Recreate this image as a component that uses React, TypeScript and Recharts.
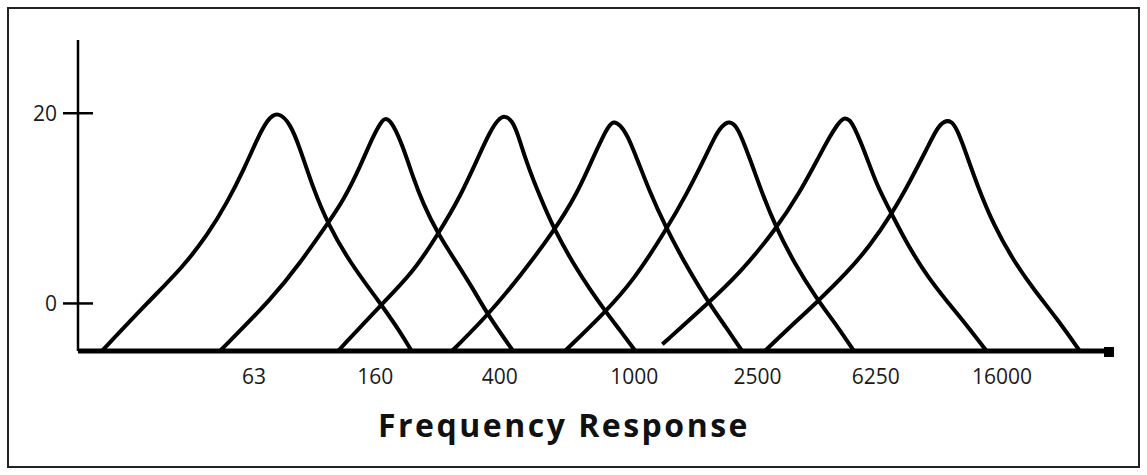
import React from 'react';
import { LineChart, Line, XAxis, YAxis, ReferenceDot } from 'recharts';

// x: position along the frequency axis (0..100), y: response level
const band63 = [
  { x: 2.3, y: -5 }, { x: 6.9, y: 0.3 }, { x: 10.1, y: 3.8 }, { x: 12.5, y: 7.2 },
  { x: 14.4, y: 10.6 }, { x: 16.1, y: 14.3 }, { x: 17.3, y: 17.3 }, { x: 18.3, y: 19.4 },
  { x: 19.3, y: 20.2 }, { x: 20.5, y: 18.9 }, { x: 21.4, y: 16.4 }, { x: 22.7, y: 12.1 },
  { x: 24.1, y: 8.4 }, { x: 26.3, y: 4.2 }, { x: 29.2, y: 0 }, { x: 31.1, y: -3.0 },
  { x: 32.2, y: -5 },
];
const band160 = [
  { x: 13.7, y: -5 }, { x: 18.8, y: 0.6 }, { x: 21.4, y: 4.2 }, { x: 24.1, y: 8.4 },
  { x: 25.6, y: 10.8 }, { x: 27.2, y: 14.3 }, { x: 28.4, y: 17.4 }, { x: 29.2, y: 19.0 },
  { x: 29.7, y: 19.6 }, { x: 30.4, y: 18.9 }, { x: 31.4, y: 16.4 }, { x: 32.3, y: 13.4 },
  { x: 33.3, y: 10.5 }, { x: 34.7, y: 7.4 }, { x: 36.6, y: 4.2 }, { x: 38.1, y: 1.6 },
  { x: 39.5, y: -1.1 }, { x: 42.0, y: -5 },
];
const band400 = [
  { x: 25.1, y: -5 }, { x: 29.2, y: -0.2 }, { x: 32.3, y: 3.2 }, { x: 34.7, y: 7.2 },
  { x: 36.9, y: 11.2 }, { x: 38.8, y: 15.8 }, { x: 39.8, y: 18.1 }, { x: 40.5, y: 19.3 },
  { x: 41.2, y: 19.8 }, { x: 41.9, y: 19.2 }, { x: 42.4, y: 18.0 }, { x: 43.3, y: 14.8 },
  { x: 44.6, y: 11.2 }, { x: 46.0, y: 7.7 }, { x: 47.8, y: 4.2 }, { x: 49.4, y: 1.5 },
  { x: 50.9, y: -0.8 }, { x: 52.3, y: -2.8 }, { x: 53.8, y: -5 },
];
const band1000 = [
  { x: 36.1, y: -5 }, { x: 39.5, y: -1.3 }, { x: 42.7, y: 2.9 }, { x: 46.0, y: 7.7 },
  { x: 48.2, y: 11.6 }, { x: 49.7, y: 15.3 }, { x: 50.7, y: 17.6 }, { x: 51.2, y: 18.6 },
  { x: 51.7, y: 19.2 }, { x: 52.3, y: 18.8 }, { x: 53.0, y: 17.8 }, { x: 54.0, y: 15.1 },
  { x: 55.2, y: 11.7 }, { x: 56.7, y: 8.1 }, { x: 58.3, y: 4.8 }, { x: 59.7, y: 2.2 },
  { x: 60.7, y: 0.4 }, { x: 62.6, y: -2.6 }, { x: 64.1, y: -5 },
];
const band2500 = [
  { x: 47.0, y: -5 }, { x: 50.9, y: -0.9 }, { x: 53.6, y: 2.4 }, { x: 56.7, y: 7.6 },
  { x: 58.8, y: 11.6 }, { x: 60.5, y: 15.3 }, { x: 61.5, y: 17.6 }, { x: 62.1, y: 18.6 },
  { x: 62.8, y: 19.2 }, { x: 63.4, y: 18.8 }, { x: 63.9, y: 17.9 }, { x: 64.9, y: 15.1 },
  { x: 66.1, y: 11.4 }, { x: 67.3, y: 8.2 }, { x: 69.1, y: 4.3 }, { x: 71.3, y: 0.5 },
  { x: 73.3, y: -2.4 }, { x: 74.9, y: -5 },
];
const band6250 = [
  { x: 56.4, y: -4.3 }, { x: 60.7, y: -0.1 }, { x: 63.9, y: 3.2 }, { x: 67.3, y: 7.7 },
  { x: 69.7, y: 11.7 }, { x: 71.6, y: 15.6 }, { x: 72.6, y: 17.6 }, { x: 73.3, y: 18.8 },
  { x: 73.9, y: 19.6 }, { x: 74.5, y: 19.3 }, { x: 74.9, y: 18.6 }, { x: 75.9, y: 16.1 },
  { x: 77.1, y: 12.4 }, { x: 78.6, y: 9.3 }, { x: 80.0, y: 6.3 }, { x: 82.0, y: 2.8 },
  { x: 83.9, y: 0.2 }, { x: 85.8, y: -2.3 }, { x: 87.7, y: -5 },
];
const band16000 = [
  { x: 66.3, y: -5 }, { x: 68.4, y: -2.8 }, { x: 71.3, y: 0.1 }, { x: 74.2, y: 3.2 },
  { x: 76.4, y: 6.0 }, { x: 78.6, y: 9.5 }, { x: 80.3, y: 12.8 }, { x: 82.0, y: 16.4 },
  { x: 82.9, y: 18.4 }, { x: 83.6, y: 19.2 }, { x: 84.3, y: 19.2 }, { x: 84.8, y: 18.4 },
  { x: 85.5, y: 16.5 }, { x: 86.8, y: 12.4 }, { x: 88.4, y: 8.2 }, { x: 90.3, y: 4.5 },
  { x: 92.3, y: 1.4 }, { x: 94.5, y: -1.6 }, { x: 96.7, y: -5 },
];

const bands = [band63, band160, band400, band1000, band2500, band6250, band16000];

const xTickPositions = [17.0, 28.7, 40.7, 53.7, 65.6, 77.0, 89.2];
const xTickLabels = ['63', '160', '400', '1000', '2500', '6250', '16000'];
const yTicks = [0, 20];
const xTitle = 'Frequency Response';

const FONT = '"Open Sans", "Noto Sans", sans-serif';

const XTick = (props: any) => {
  const { x, y, payload } = props;
  const idx = xTickPositions.indexOf(payload.value);
  return (
    <text x={x} y={y + 33} textAnchor="middle" fontFamily={FONT} fontSize={21} fill="#1a1a1a">
      {idx >= 0 ? xTickLabels[idx] : ''}
    </text>
  );
};

const YTick = (props: any) => {
  const { x, y, payload } = props;
  return (
    <g>
      <line x1={x - 15} x2={x + 15} y1={y} y2={y} stroke="#000" strokeWidth={2.5} />
      <text x={x - 21} y={y + 8} textAnchor="end" fontFamily={FONT} fontSize={21} fill="#1a1a1a">
        {payload.value}
      </text>
    </g>
  );
};

const EndSquare = (props: any) => {
  const { cx, cy } = props;
  return <rect x={cx - 10} y={cy - 4} width={10} height={10} fill="#000" />;
};

export default function App() {
  return (
    <div style={{ position: 'absolute', left: 0, top: 0, width: 1147, height: 475, background: '#fff' }}>
      <div
        style={{
          position: 'absolute', left: 7, top: 7, width: 1133, height: 461,
          border: '2px solid #222', boxSizing: 'border-box',
        }}
      />
      <div style={{ position: 'absolute', left: 0, top: 0 }}>
        <LineChart width={1147} height={475} margin={{ top: 40, right: 33, left: 0, bottom: 94 }}>
          <XAxis
            dataKey="x"
            type="number"
            domain={[0, 100]}
            ticks={xTickPositions}
            tick={<XTick />}
            tickLine={false}
            tickSize={0}
            tickMargin={0}
            height={30}
            axisLine={{ stroke: '#000', strokeWidth: 5 }}
            allowDataOverflow
          />
          <YAxis
            type="number"
            domain={[-5, 27.7]}
            ticks={yTicks}
            tick={<YTick />}
            tickLine={false}
            tickSize={0}
            tickMargin={0}
            width={78}
            axisLine={{ stroke: '#000', strokeWidth: 2.5 }}
            allowDataOverflow
          />
          {bands.map((b, i) => (
            <Line
              key={i}
              data={b}
              dataKey="y"
              type="basis"
              stroke="#000"
              strokeWidth={4}
              dot={false}
              activeDot={false}
              isAnimationActive={false}
            />
          ))}
          <ReferenceDot x={100} y={-5} r={5} shape={<EndSquare />} ifOverflow="visible" />
        </LineChart>
      </div>
      <div
        style={{
          position: 'absolute', left: 364, top: 409, width: 400, textAlign: 'center',
          fontFamily: FONT, fontWeight: 700, fontSize: 32, lineHeight: '32px',
          letterSpacing: 2.5, color: '#111', whiteSpace: 'nowrap',
        }}
      >
        {xTitle}
      </div>
    </div>
  );
}
